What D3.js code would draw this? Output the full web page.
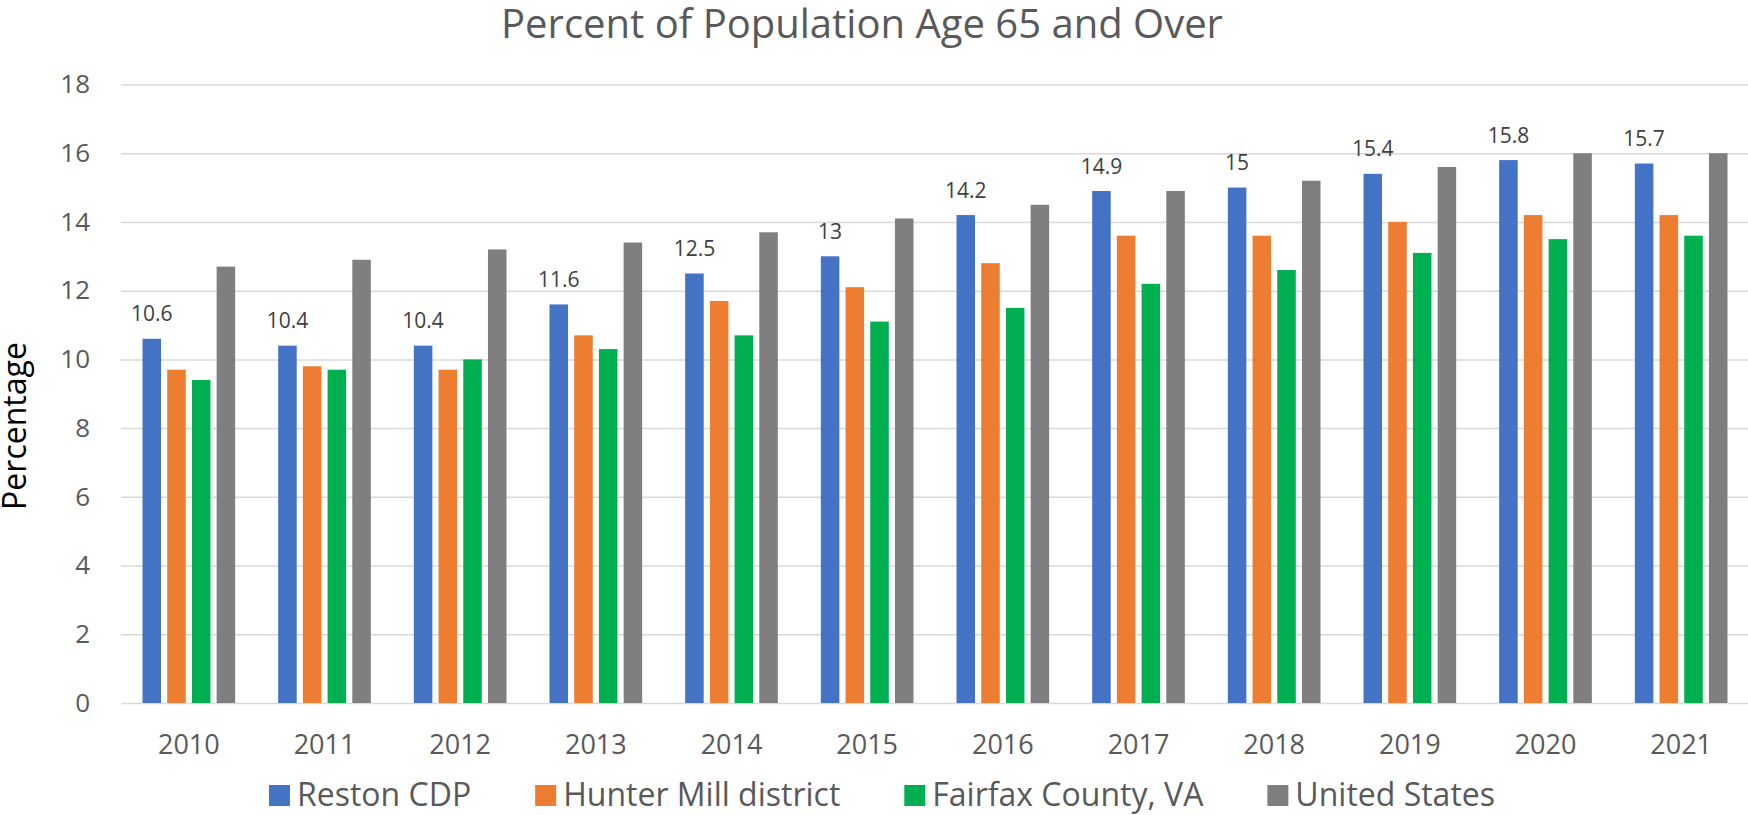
<!DOCTYPE html>
<html>
<head>
<meta charset="utf-8">
<script src="https://cdn.jsdelivr.net/npm/d3@7"></script>
<style>
  body { margin: 0; background: #fff; }
  text { font-family: "Open Sans", sans-serif; }
</style>
</head>
<body>
<script>
// data
var years = ["2010", "2011", "2012", "2013", "2014", "2015", "2016", "2017", "2018", "2019", "2020", "2021"];
var seriesNames = ["Reston CDP", "Hunter Mill district", "Fairfax County, VA", "United States"];
var reston = [10.6, 10.4, 10.4, 11.6, 12.5, 13, 14.2, 14.9, 15, 15.4, 15.8, 15.7];
var hunterMill = [9.7, 9.8, 9.7, 10.7, 11.7, 12.1, 12.8, 13.6, 13.6, 14.0, 14.2, 14.2];
var fairfax = [9.4, 9.7, 10.0, 10.3, 10.7, 11.1, 11.5, 12.2, 12.6, 13.1, 13.5, 13.6];
var unitedStates = [12.7, 12.9, 13.2, 13.4, 13.7, 14.1, 14.5, 14.9, 15.2, 15.6, 16.0, 16.0];
var yTicks = [0, 2, 4, 6, 8, 10, 12, 14, 16, 18];
var colors = ["#4472C4", "#ED7D31", "#00B050", "#7F7F7F"];

var allValues = [reston, hunterMill, fairfax, unitedStates];

var width = 1748,
    height = 815;

// plot area edges (note: "top" is taken by window.top)
var plotLeft = 121, plotRight = 1749, plotTop = 84.5, plotBottom = 703;

var svg = d3.select("body").append("svg")
    .attr("width", width)
    .attr("height", height);

var x0 = d3.scaleBand()
    .domain(years)
    .range([plotLeft, plotRight])
    .paddingInner(0.317)
    .paddingOuter(0.1585);

var x1 = d3.scaleBand()
    .domain(seriesNames)
    .range([0, x0.bandwidth()])
    .paddingInner(0.25);

var y = d3.scaleLinear()
    .domain([0, 18])
    .range([plotBottom, plotTop]);

var color = d3.scaleOrdinal().domain(seriesNames).range(colors);

// gridlines + y labels
var yAxis = svg.append("g")
    .attr("transform", "translate(" + plotLeft + ",0)")
    .call(d3.axisLeft(y).tickValues(yTicks).tickSize(-(width - plotLeft)).tickPadding(31).tickFormat(d3.format("d")));
yAxis.select(".domain").remove();
yAxis.selectAll("line").attr("stroke", "#D9D9D9").attr("stroke-width", 1.5);
yAxis.selectAll("text")
    .attr("fill", "#595959")
    .style("font-size", "26px");

// x labels
var xAxis = svg.append("g")
    .attr("transform", "translate(0," + plotBottom + ")")
    .call(d3.axisBottom(x0).tickSize(0).tickPadding(32));
xAxis.select(".domain").remove();
xAxis.selectAll("text")
    .attr("fill", "#595959")
    .style("font-size", "27px");

// one row per year
var rows = years.map(function(yr, i) {
  return seriesNames.map(function(s, j) { return { year: yr, series: s, value: allValues[j][i] }; });
});

var groups = svg.selectAll("g.year")
    .data(rows)
  .enter().append("g")
    .attr("class", "year")
    .attr("transform", function(d) { return "translate(" + x0(d[0].year) + ",0)"; });

groups.selectAll("rect")
    .data(function(d) { return d; })
  .enter().append("rect")
    .attr("x", function(d) { return x1(d.series); })
    .attr("y", function(d) { return y(d.value); })
    .attr("width", x1.bandwidth())
    .attr("height", function(d) { return plotBottom - y(d.value); })
    .attr("fill", function(d) { return color(d.series); });

// data labels on Reston bars only
groups.append("text")
    .attr("x", function(d) { return x1(d[0].series) + x1.bandwidth() / 2; })
    .attr("y", function(d) { return y(d[0].value) - 17.5; })
    .attr("text-anchor", "middle")
    .attr("fill", "#404040")
    .style("font-size", "21px")
    .text(function(d) { return d[0].value; });

// title
svg.append("text")
    .attr("x", 862)
    .attr("y", 38)
    .attr("text-anchor", "middle")
    .attr("fill", "#595959")
    .style("font-size", "40px")
    .text("Percent of Population Age 65 and Over");

// y axis title
svg.append("text")
    .attr("transform", "translate(26,426) rotate(-90)")
    .attr("text-anchor", "middle")
    .attr("fill", "#000")
    .style("font-size", "32px")
    .text("Percentage");

// legend, laid out from text widths then centred
var legend = svg.append("g");
var pos = 0;
seriesNames.forEach(function(s) {
  var item = legend.append("g").attr("transform", "translate(" + pos + ",0)");
  item.append("rect")
      .attr("x", 0).attr("y", -21)
      .attr("width", 21).attr("height", 21)
      .attr("fill", color(s));
  var t = item.append("text")
      .attr("x", 28)
      .attr("y", 0)
      .attr("fill", "#595959")
      .style("font-size", "32px")
      .text(s);
  pos += 28 + t.node().getComputedTextLength() + 64;
});
var legendWidth = pos - 64;
legend.attr("transform", "translate(" + (882 - legendWidth / 2) + ",806)");
</script>
</body>
</html>
